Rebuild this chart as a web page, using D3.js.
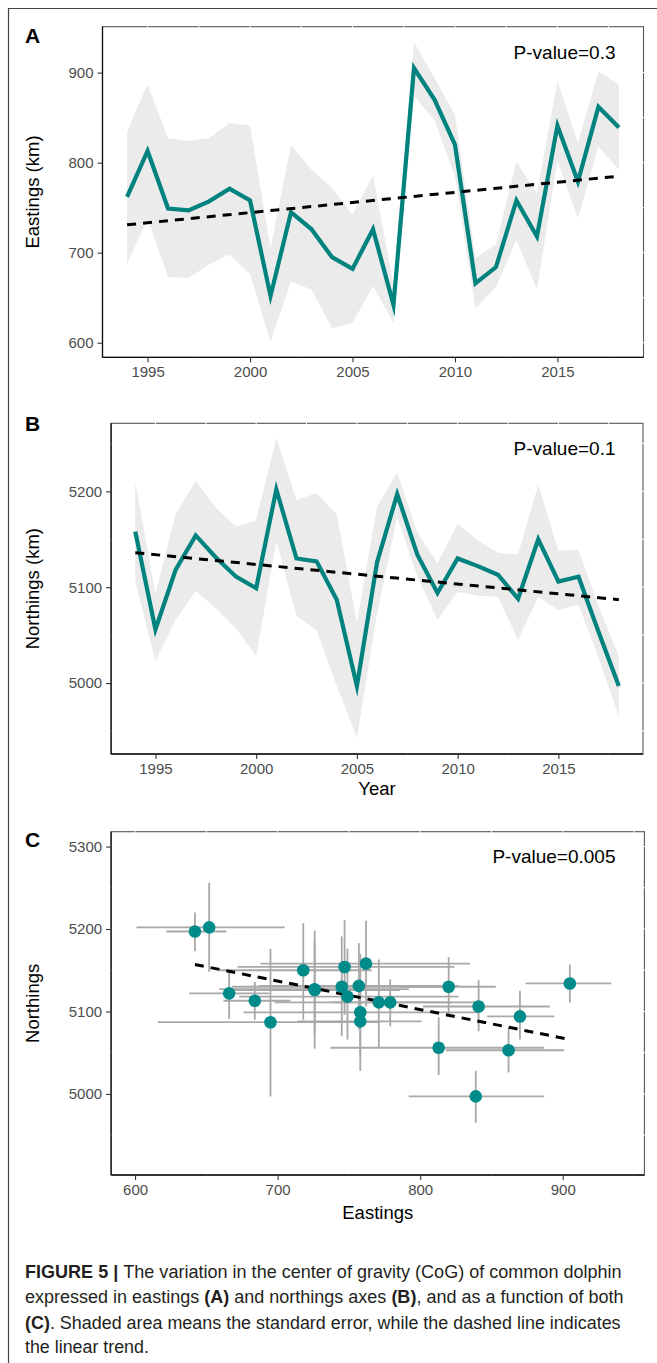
<!DOCTYPE html>
<html>
<head>
<meta charset="utf-8">
<script src="https://cdn.jsdelivr.net/npm/d3@7"></script>
<style>
  html, body { margin: 0; padding: 0; background: #fff; }
  svg { display: block; font-family: "Liberation Sans", Arial, sans-serif; }
</style>
</head>
<body>
<svg id="fig" width="657" height="1363"></svg>
<script>
// ---------------- data ----------------
const years = [1994, 1995, 1996, 1997, 1998, 1999, 2000, 2001, 2002, 2003, 2004, 2005,
               2006, 2007, 2008, 2009, 2010, 2011, 2012, 2013, 2014, 2015, 2016, 2017, 2018];

const eastMean  = [762, 813, 749, 747, 757, 771, 758, 652, 745, 726, 695, 682,
                   726, 642, 905, 870, 820, 666, 684, 758, 718, 841, 779, 862, 839];
const eastLower = [688, 737, 673, 672, 687, 698, 676, 601, 668, 659, 616, 622,
                   663, 622, 874, 847, 785, 638, 662, 714, 659, 802, 738, 818, 792];
const eastUpper = [835, 887, 827, 824, 827, 844, 841, 705, 820, 792, 772, 742,
                   786, 664, 934, 894, 853, 694, 709, 801, 766, 891, 822, 901, 887];

const northMean  = [5158, 5056, 5118, 5154, 5131, 5111, 5099, 5202, 5130, 5127, 5087, 4997,
                    5126, 5197, 5134, 5094, 5130, 5122, 5113, 5088, 5150, 5106, 5111, 5053, 4997];
const northLower = [5106, 5023, 5066, 5096, 5078, 5057, 5028, 5148, 5070, 5055, 4997, 4943,
                    5072, 5173, 5111, 5066, 5095, 5091, 5090, 5045, 5090, 5076, 5082, 5026, 4965];
const northUpper = [5210, 5093, 5176, 5211, 5183, 5163, 5170, 5256, 5191, 5198, 5176, 5063,
                    5184, 5220, 5157, 5125, 5166, 5149, 5136, 5134, 5207, 5138, 5139, 5080, 5028];

// years not shown in panel C
const excludedC = [2005];

// linear trends (end points)
const trendAYears = [1994, 2018], trendAValues = [731, 785];
const trendBYears = [1994, 2018], trendBValues = [5136, 5087];
const trendCEast  = [642, 905],   trendCNorth  = [5157, 5066];

const pValues = ["P-value=0.3", "P-value=0.1", "P-value=0.005"];
const panelLetters = ["A", "B", "C"];

const yearTicks = [1995, 2000, 2005, 2010, 2015];
const yearMinor = [1992.5, 1997.5, 2002.5, 2007.5, 2012.5, 2017.5];
const eastTicks = [600, 700, 800, 900];
const eastMinor = [650, 750, 850, 950];
const northTicks = [5000, 5100, 5200];
const northTicksC = [5000, 5100, 5200, 5300];
const northMinor = [4950, 5050, 5150, 5250];

const captionLines = [
  [["FIGURE 5 | ", true], ["The variation in the center of gravity (CoG) of common dolphin", false]],
  [["expressed in eastings ", false], ["(A)", true], [" and northings axes ", false], ["(B)", true], [", and as a function of both", false]],
  [["(C)", true], [". Shaded area means the standard error, while the dashed line indicates", false]],
  [["the linear trend.", false]]
];
const captionWidths = [597, 599, 596, 124];

// ---------------- drawing ----------------
const svg = d3.select("#fig");
const TEAL = "#00827F", POINT = "#008B8B", RIB = "#EBEBEB";

// outer frame (top and left only)
svg.append("line").attr("x1", 8).attr("x2", 657).attr("y1", 8.5).attr("y2", 8.5)
  .attr("stroke", "#444").attr("stroke-width", 1.2);
svg.append("line").attr("x1", 8.5).attr("x2", 8.5).attr("y1", 8).attr("y2", 1363)
  .attr("stroke", "#444").attr("stroke-width", 1.2);

function frame(g, x, y, xMajor, xMinor, yMajor, yMinor) {
  const [x0, x1] = x.range(), [y1, y0] = y.range();
  g.append("rect").attr("x", x0).attr("y", y0).attr("width", x1 - x0).attr("height", y1 - y0)
    .attr("fill", "#fff").attr("stroke", "#555").attr("stroke-width", 1.1);
  const gx = xMajor.concat(xMinor).filter(v => x(v) > x0 + 1 && x(v) < x1 - 1);
  const gy = yMajor.concat(yMinor).filter(v => y(v) > y0 + 1 && y(v) < y1 - 1);
  g.selectAll(null).data(gx).join("line")
    .attr("x1", d => x(d)).attr("x2", d => x(d)).attr("y1", y0 - 1).attr("y2", y1 + 1)
    .attr("stroke", "#fff").attr("stroke-width", xMinor.includes ? 1 : 1);
  g.selectAll(null).data(gy).join("line")
    .attr("y1", d => y(d)).attr("y2", d => y(d)).attr("x1", x0 - 1).attr("x2", x1 + 1)
    .attr("stroke", "#fff").attr("stroke-width", 1);
}

function axes(g, x, y, xTicks, yTicks, fmt) {
  const [x0] = x.range(), [y1] = y.range();
  const ax = g.append("g").attr("transform", `translate(0,${y1})`)
    .call(d3.axisBottom(x).tickValues(xTicks).tickFormat(fmt || d3.format("d")).tickSize(5).tickPadding(4));
  const ay = g.append("g").attr("transform", `translate(${x0},0)`)
    .call(d3.axisLeft(y).tickValues(yTicks).tickFormat(d3.format("d")).tickSize(5).tickPadding(4));
  [ax, ay].forEach(a => {
    a.select(".domain").remove();
    a.selectAll(".tick line").attr("stroke", "#333").attr("stroke-width", 1.1);
    a.selectAll(".tick text").attr("fill", "#4D4D4D").style("font-size", "15px")
      .style("font-family", "'Liberation Sans', Arial, sans-serif");
  });
  const [xa, xb] = x.range(), [ya, yb] = y.range();
  g.append("line").attr("x1", xa).attr("x2", xb).attr("y1", ya).attr("y2", ya)
    .attr("stroke", "#111").attr("stroke-width", 1.3);
  g.append("line").attr("x1", xa).attr("x2", xa).attr("y1", ya).attr("y2", yb)
    .attr("stroke", "#111").attr("stroke-width", 1.3);
}

function labels(g, x, y, letter, letterY, pText, pY, yTitle, xTitle, xTitleY) {
  const [x0, x1] = x.range(), [y1, y0] = y.range();
  g.append("text").attr("x", 25).attr("y", letterY).text(letter)
    .style("font-size", "21px").style("font-weight", "bold").attr("fill", "#000");
  g.append("text").attr("x", 615.5).attr("y", pY).attr("text-anchor", "end").text(pText)
    .style("font-size", "19px").attr("fill", "#000");
  g.append("text").attr("transform", `translate(39,${(y0 + y1) / 2}) rotate(-90)`)
    .attr("text-anchor", "middle").text(yTitle).style("font-size", "18.5px").attr("fill", "#000");
  if (xTitle) {
    g.append("text").attr("x", (x0 + x1) / 2).attr("y", xTitleY).attr("text-anchor", "middle")
      .text(xTitle).style("font-size", "18.5px").attr("fill", "#000");
  }
}

function timePanel(box, mean, lower, upper, tYears, tVals, yDomain, yMajor, yMinor, idx, yTitle, xTitle, letterY, pY, xTitleY) {
  const g = svg.append("g");
  const x = d3.scaleLinear().domain([1992.8, 2019.2]).range([box.l, box.r]);
  const y = d3.scaleLinear().domain(yDomain).range([box.b, box.t]);
  frame(g, x, y, yearTicks, yearMinor, yMajor, yMinor);
  const rows = years.map((yr, i) => ({ yr, m: mean[i], lo: lower[i], hi: upper[i] }));
  g.append("path").datum(rows)
    .attr("d", d3.area().x(d => x(d.yr)).y0(d => y(d.lo)).y1(d => y(d.hi)))
    .attr("fill", RIB);
  g.append("path").datum(rows)
    .attr("d", d3.line().x(d => x(d.yr)).y(d => y(d.m)))
    .attr("fill", "none").attr("stroke", TEAL).attr("stroke-width", 4.2)
    .attr("stroke-linejoin", "miter").attr("stroke-miterlimit", 10);
  g.append("path").datum(tYears.map((yr, i) => [yr, tVals[i]]))
    .attr("d", d3.line().x(d => x(d[0])).y(d => y(d[1])))
    .attr("fill", "none").attr("stroke", "#000").attr("stroke-width", 3)
    .attr("stroke-dasharray", "9,7");
  axes(g, x, y, yearTicks, yMajor);
  labels(g, x, y, panelLetters[idx], letterY, pValues[idx], pY, yTitle, xTitle, xTitleY);
}

// Panel A
timePanel({ l: 102.5, r: 643.5, t: 26.7, b: 357.3 }, eastMean, eastLower, eastUpper,
  trendAYears, trendAValues, [583.8, 951], [600, 700, 800, 900], [650, 750, 850, 950],
  0, "Eastings (km)", null, 43.3, 58.5, 0);

// Panel B
timePanel({ l: 111.1, r: 643, t: 423.3, b: 754 }, northMean, northLower, northUpper,
  trendBYears, trendBValues, [4926, 5271], northTicks, northMinor.concat([5250]),
  1, "Northings (km)", "Year", 430.7, 455, 795);

// Panel C
(function () {
  const box = { l: 111.1, r: 644.4, t: 831.7, b: 1175 };
  const g = svg.append("g");
  const x = d3.scaleLinear().domain([583.2, 957.3]).range([box.l, box.r]);
  const y = d3.scaleLinear().domain([4901.7, 5318]).range([box.b, box.t]);
  frame(g, x, y, eastTicks, eastMinor, northTicksC, northMinor);
  const rows = years.map((yr, i) => ({
    yr, e: eastMean[i], elo: eastLower[i], ehi: eastUpper[i],
    n: northMean[i], nlo: northLower[i], nhi: northUpper[i]
  })).filter(d => !excludedC.includes(d.yr));
  g.selectAll(null).data(rows).join("line")
    .attr("x1", d => x(d.elo)).attr("x2", d => x(d.ehi))
    .attr("y1", d => y(d.n)).attr("y2", d => y(d.n))
    .attr("stroke", "#A8A8A8").attr("stroke-width", 1.8);
  g.selectAll(null).data(rows).join("line")
    .attr("x1", d => x(d.e)).attr("x2", d => x(d.e))
    .attr("y1", d => y(d.nlo)).attr("y2", d => y(d.nhi))
    .attr("stroke", "#A8A8A8").attr("stroke-width", 1.8);
  g.append("path").datum(trendCEast.map((e, i) => [e, trendCNorth[i]]))
    .attr("d", d3.line().x(d => x(d[0])).y(d => y(d[1])))
    .attr("fill", "none").attr("stroke", "#000").attr("stroke-width", 3)
    .attr("stroke-dasharray", "9,7");
  g.selectAll(null).data(rows).join("circle")
    .attr("cx", d => x(d.e)).attr("cy", d => y(d.n)).attr("r", 6.3)
    .attr("fill", POINT);
  axes(g, x, y, eastTicks, northTicksC);
  labels(g, x, y, panelLetters[2], 846.7, pValues[2], 862.5, "Northings", "Eastings", 1218.5);
})();

// Caption
const capY = [1278, 1302.5, 1328.5, 1353];
captionLines.forEach((parts, i) => {
  const t = svg.append("text").attr("x", 0).attr("y", 0)
    .style("font-size", "18.5px").attr("fill", "#231F20");
  parts.forEach(([s, b]) => {
    t.append("tspan").text(s).style("font-weight", b ? "bold" : "normal");
  });
  const w = t.node().getComputedTextLength();
  const k = captionWidths[i] / w;
  t.attr("transform", `translate(25,${capY[i]}) scale(${k},1)`);
});
</script>
</body>
</html>
